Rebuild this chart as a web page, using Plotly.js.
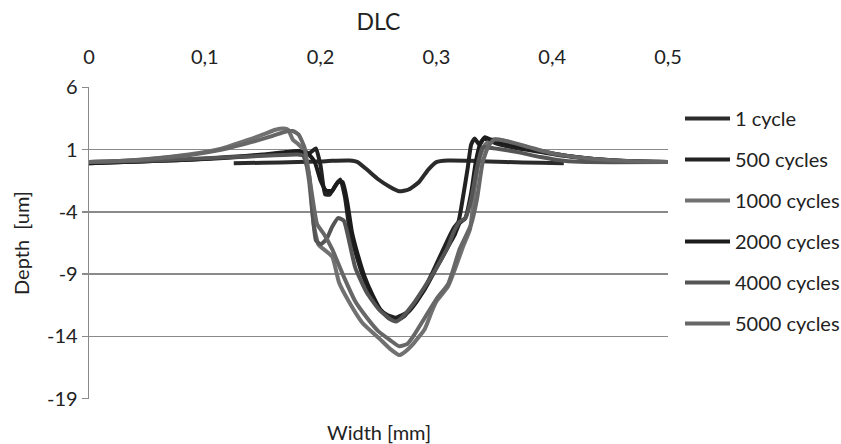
<!DOCTYPE html>
<html>
<head>
<meta charset="utf-8">
<script src="https://cdn.plot.ly/plotly-3.0.1.min.js"></script>
<style>html,body{margin:0;padding:0;background:#fff;}#chart{width:841px;height:444px;}</style>
</head>
<body>
<div id="chart"></div>
<script>
const seriesNames = ["1 cycle", "500 cycles", "1000 cycles", "2000 cycles", "4000 cycles", "5000 cycles"];
const seriesColors = ["#2b2b2b", "#222222", "#717171", "#1c1c1c", "#555555", "#676767"];

const x1 = [0.125,0.15,0.18,0.2,0.21,0.225,0.232,0.24,0.25,0.26,0.268,0.276,0.285,0.293,0.3,0.31,0.33,0.36,0.39,0.41];
const y1 = [-0.1,-0.05,0.0,0.05,0.1,0.12,0.0,-0.6,-1.4,-2.0,-2.35,-2.2,-1.6,-0.6,0.0,0.12,0.1,0.0,-0.05,-0.1];

const x500 = [0,0.03,0.06,0.09,0.12,0.15,0.17,0.185,0.19,0.193,0.196,0.2,0.204,0.208,0.212,0.217,0.221,0.225,0.23,0.236,0.243,0.251,0.258,0.265,0.27,0.276,0.283,0.29,0.297,0.304,0.31,0.315,0.319,0.323,0.327,0.33,0.333,0.337,0.341,0.346,0.355,0.37,0.39,0.41,0.44,0.47,0.5];
const y500 = [-0.1,0,0.1,0.2,0.4,0.6,0.8,0.9,0.7,0.9,1.1,-0.3,-2.6,-2.6,-2.0,-1.4,-2.8,-5.4,-7.2,-9.0,-10.5,-11.8,-12.3,-12.5,-12.3,-12.0,-11.2,-10.1,-8.8,-7.4,-6.2,-5.3,-4.8,-2.8,-0.5,1.4,1.9,1.4,1.9,1.7,1.4,1.1,0.8,0.5,0.2,0.05,0];

const x1000 = [0,0.03,0.058,0.086,0.115,0.138,0.15,0.161,0.168,0.172,0.176,0.18,0.185,0.19,0.194,0.198,0.2,0.21,0.216,0.225,0.236,0.251,0.26,0.268,0.272,0.28,0.29,0.296,0.3,0.31,0.318,0.323,0.329,0.333,0.337,0.342,0.348,0.355,0.37,0.39,0.42,0.45,0.5];
const y1000 = [0,0.1,0.3,0.6,1.1,1.8,2.2,2.6,2.7,2.6,1.8,1.5,1.0,-1.5,-5.0,-6.6,-6.8,-7.6,-9.7,-11.3,-12.9,-14.2,-15.0,-15.5,-15.3,-14.6,-13.4,-12.0,-11.2,-10.0,-8.1,-6.8,-5.4,-2.2,0.2,1.4,1.8,1.8,1.4,0.9,0.4,0.1,0];

const x2000 = [0,0.03,0.06,0.09,0.12,0.15,0.17,0.185,0.19,0.195,0.2,0.205,0.21,0.215,0.219,0.223,0.227,0.232,0.238,0.245,0.252,0.26,0.266,0.272,0.28,0.29,0.3,0.31,0.316,0.32,0.325,0.33,0.334,0.338,0.342,0.347,0.36,0.38,0.4,0.43,0.46,0.5];
const y2000 = [-0.1,0,0.1,0.2,0.35,0.55,0.75,0.8,0.6,0.0,-1.5,-2.3,-2.3,-1.6,-1.6,-3.2,-5.6,-7.4,-9.2,-10.7,-11.9,-12.6,-12.7,-12.4,-11.5,-10.2,-8.5,-6.8,-5.8,-4.9,-4.5,-2.5,0.0,1.5,2.0,1.8,1.5,1.1,0.7,0.3,0.1,0];

const x4000 = [0,0.05,0.1,0.15,0.18,0.185,0.19,0.193,0.196,0.2,0.205,0.21,0.215,0.22,0.225,0.23,0.24,0.25,0.26,0.265,0.27,0.28,0.29,0.3,0.31,0.315,0.32,0.325,0.33,0.335,0.34,0.35,0.37,0.39,0.41,0.43,0.5];
const y4000 = [0,0.1,0.3,0.5,0.6,0.5,-1.0,-4.0,-6.3,-6.6,-6.2,-5.2,-4.5,-4.7,-6.5,-8.5,-10.5,-11.8,-12.6,-12.8,-12.5,-11.4,-10.0,-8.5,-6.8,-5.6,-4.8,-4.5,-3.0,-0.5,1.2,1.1,0.8,0.4,0.1,0,0];

const x5000 = [0,0.03,0.06,0.09,0.115,0.14,0.155,0.168,0.176,0.181,0.186,0.19,0.194,0.197,0.203,0.21,0.22,0.23,0.24,0.25,0.26,0.268,0.275,0.28,0.29,0.3,0.31,0.315,0.32,0.33,0.335,0.34,0.345,0.35,0.36,0.38,0.4,0.43,0.46,0.5];
const y5000 = [0,0.1,0.3,0.6,1.0,1.6,2.0,2.4,2.5,2.2,1.2,-1.0,-3.5,-5.0,-5.8,-7.0,-9.2,-11.2,-12.5,-13.6,-14.3,-14.8,-14.6,-14.0,-12.5,-11.0,-9.8,-8.5,-7.0,-5.0,-3.0,0.0,1.3,1.8,1.7,1.2,0.7,0.3,0.1,0];

const xs = [x1, x500, x1000, x2000, x4000, x5000];
const ys = [y1, y500, y1000, y2000, y4000, y5000];

const xTicks = [0, 0.1, 0.2, 0.3, 0.4, 0.5];
const yTicks = [-19, -14, -9, -4, 1, 6];

const FONT = "Lato, 'Open Sans', sans-serif";
const FS = 20;

const traces = seriesNames.map((n, i) => ({
  type: 'scatter', mode: 'lines', name: n,
  x: xs[i], y: ys[i],
  legendgroup: 'g' + i,
  line: {color: seriesColors[i], width: 4, shape: 'spline', smoothing: 0.5},
  hoverinfo: 'skip'
}));

const layout = {
  width: 841, height: 444,
  margin: {l: 89, r: 173, t: 87, b: 45, autoexpand: false},
  paper_bgcolor: '#fff', plot_bgcolor: '#fff',
  separators: ', ',
  font: {family: FONT, size: FS, color: '#222'},
  showlegend: true,
  title: {text: 'DLC', font: {family: FONT, size: 23, color: '#222'}, x: 0.5, xref: 'paper', y: 1 - 22/444, yref: 'container', yanchor: 'middle'},
  xaxis: {
    side: 'top', range: [0, 0.5], tickvals: xTicks, ticktext: xTicks.map(v => String(v).replace('.', ',')),
    showgrid: false, zeroline: false, showline: false,
    ticks: 'outside', ticklen: 14, tickcolor: 'rgba(0,0,0,0)',
    tickfont: {family: FONT, size: FS, color: '#222'}
  },
  xaxis2: {
    overlaying: 'x', anchor: 'free', position: 19/25, side: 'bottom',
    range: [0, 0.5], tickvals: xTicks, showticklabels: false,
    showgrid: false, zeroline: false, showline: false,
    ticks: 'outside', ticklen: 6, tickcolor: '#888', tickwidth: 1.3
  },
  yaxis: {
    range: [-19.03, 6.03], tickvals: yTicks, ticktext: yTicks.map(v => String(v)),
    showgrid: true, gridcolor: '#8a8a8a', gridwidth: 1.3,
    zeroline: false, showline: true, linecolor: '#8a8a8a', linewidth: 1.3,
    ticks: 'outside', ticklen: 6, tickcolor: '#8a8a8a', tickwidth: 1.3,
    tickfont: {family: FONT, size: FS, color: '#222'},
    title: {text: 'Depth\u00a0\u00a0[um]', font: {family: FONT, size: FS, color: '#222'}, standoff: 12}
  },
  legend: {
    xref: 'container', x: 680/841, xanchor: 'left', y: 1 - 12/312, yanchor: 'top',
    font: {family: FONT, size: FS, color: '#222'},
    tracegroupgap: 12, itemwidth: 45, bgcolor: 'rgba(0,0,0,0)'
  },
  annotations: [{
    text: 'Width [mm]', xref: 'paper', yref: 'paper', x: 0.5, y: -(432 - 399) / 312,
    xanchor: 'center', yanchor: 'middle', showarrow: false,
    font: {family: FONT, size: FS, color: '#222'}
  }]
};

Plotly.newPlot('chart', traces, layout, {staticPlot: true, displayModeBar: false});
</script>
</body>
</html>
